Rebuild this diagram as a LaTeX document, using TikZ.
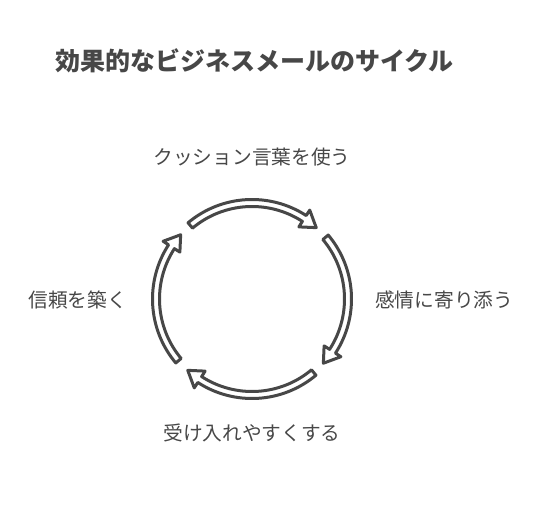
\documentclass[tikz,border=0pt]{standalone}
\usepackage{fontspec}
\setmainfont{Noto Sans CJK JP}
\usetikzlibrary{positioning}
\definecolor{ink}{HTML}{474747}
\tikzset{
  cyclearrow/.style={draw=ink, line width=3pt, line join=round, fill=white},
  steplabel/.style={text=ink, font=\fontsize{19.7pt}{22pt}\selectfont, inner sep=0pt},
}

\begin{document}
\begin{tikzpicture}[x=1pt, y=1pt]
    \useasboundingbox (0,0) rectangle (540,516);
    \node[text=ink, font=\fontsize{25pt}{28pt}\selectfont\bfseries, anchor=west, inner sep=0pt] (title) at (55,455) {効果的なビジネスメールのサイクル};
    \coordinate (hub) at (252,217);
    \begin{scope}[shift={(hub)}]
      \foreach \c in {90,0,-90,180} {
        \pgfmathsetmacro{\s}{\c+40}
        \pgfmathsetmacro{\e}{\c-42}
        \pgfmathsetmacro{\b}{\c-33}
        \draw[cyclearrow] (\s:99.5pt) arc[start angle=\s, end angle=\b, radius=99.5pt]
          -- (\b:106pt) -- (\e:96pt) -- (\b:86pt) -- (\b:92.5pt)
          arc[start angle=\b, end angle=\s, radius=92.5pt] -- cycle;
      }
    \end{scope}
    \node[steplabel] (cushion) at (252,359) {クッション言葉を使う};
    \node[steplabel, anchor=west] (empathy) at (375,216) {感情に寄り添う};
    \node[steplabel] (accept) at (252,83) {受け入れやすくする};
    \node[steplabel, anchor=east] (trust) at (127,216) {信頼を築く};
\end{tikzpicture}
\end{document}
